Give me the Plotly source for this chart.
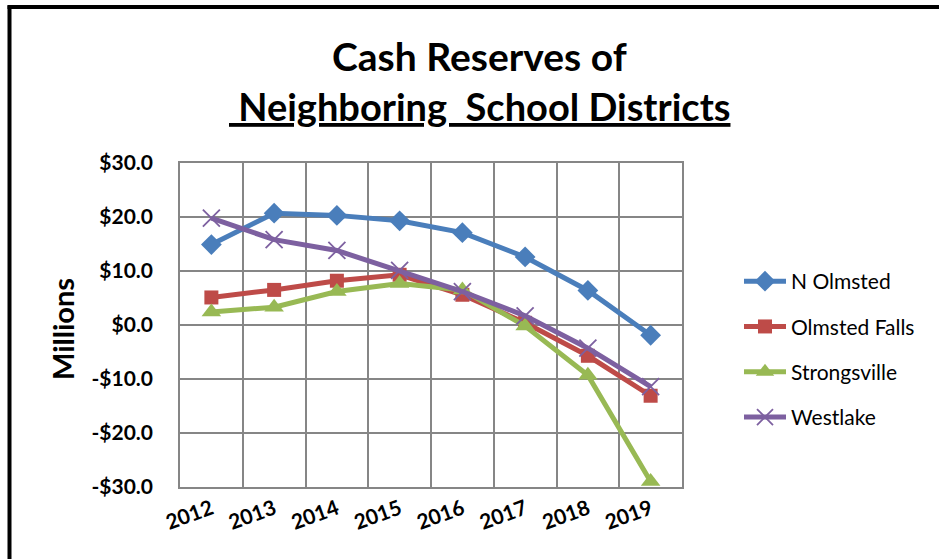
import plotly.graph_objects as go

years = ["2012", "2013", "2014", "2015", "2016", "2017", "2018", "2019"]
n_olmsted = [14.9, 20.7, 20.3, 19.3, 17.1, 12.6, 6.4, -1.9]
olmsted_falls = [5.1, 6.5, 8.2, 9.3, 5.6, 0.4, -5.7, -13.1]
strongsville = [2.4, 3.3, 6.2, 7.7, 6.5, -0.2, -9.3, -29.0]
westlake = [19.8, 15.8, 13.8, 10.1, 6.2, 1.7, -4.3, -11.4]

y_tickvals = [30, 20, 10, 0, -10, -20, -30]
y_ticktext = ["$30.0", "$20.0", "$10.0", "$0.0", "-$10.0", "-$20.0", "-$30.0"]

FONT = "Lato"

# plot area in pixels
L, R, T, B = 180, 682, 163, 487
W, H = 939, 559
pw, ph = R - L, B - T

def px(x):
    return (x - L) / pw

def py(y):
    return (B - y) / ph

series = [
    ("N Olmsted", n_olmsted, "#4A7EBB", dict(symbol="diamond", size=16)),
    ("Olmsted Falls", olmsted_falls, "#BE4B48", dict(symbol="square", size=14)),
    ("Strongsville", strongsville, "#98B954", dict(symbol="triangle-up", size=17)),
    ("Westlake", westlake, "#7D60A0", dict(symbol="x-thin", size=17)),
]

fig = go.Figure()
for name, vals, color, mk in series:
    marker = dict(color=color, **mk)
    if mk["symbol"] == "x-thin":
        marker["line"] = dict(color=color, width=1.8)
    else:
        marker["line"] = dict(width=0)
    fig.add_trace(go.Scatter(
        x=years, y=vals, name=name, mode="lines+markers",
        line=dict(color=color, width=5),
        marker=marker, legendgroup=name,
    ))

grid = "#868686"
fig.update_layout(
    width=W, height=H,
    margin=dict(l=L, r=W - R, t=T, b=H - B, pad=0),
    paper_bgcolor="white", plot_bgcolor="white",
    font=dict(family=FONT, color="black"),
    showlegend=True,
    legend=dict(x=px(739), y=py(261), xanchor="left", yanchor="top",
                font=dict(family=FONT, size=21, color="black"),
                itemwidth=42, tracegroupgap=15, bgcolor="rgba(0,0,0,0)"),
    xaxis=dict(type="category", range=[-0.5, 7.5], tickson="boundaries",
               showgrid=True, gridcolor=grid, gridwidth=1.5,
               showline=True, linecolor=grid, linewidth=1.5, mirror=True,
               ticks="", tickangle=-20,
               tickfont=dict(family=FONT, size=21, color="black", weight="bold"),
               fixedrange=True),
    yaxis=dict(range=[-30, 30], tickvals=y_tickvals, ticktext=y_ticktext,
               showgrid=True, gridcolor=grid, gridwidth=1.5, zeroline=False,
               showline=True, linecolor=grid, linewidth=1.5, mirror=True,
               ticks="", ticklabelstandoff=21,
               tickfont=dict(family=FONT, size=21, color="black", weight="bold")),
    annotations=[
        dict(text="Cash Reserves of", x=px(479), y=py(56), xref="paper", yref="paper",
             showarrow=False, xanchor="center", yanchor="middle",
             font=dict(family=FONT, size=39, color="black", weight="bold")),
        dict(text=" Neighboring  School Districts", x=px(479), y=py(106), xref="paper", yref="paper",
             showarrow=False, xanchor="center", yanchor="middle",
             font=dict(family=FONT, size=38, color="black", weight="bold", lineposition="under")),
        dict(text="Millions", x=px(62), y=py(329), xref="paper", yref="paper",
             showarrow=False, xanchor="center", yanchor="middle", textangle=-90,
             font=dict(family=FONT, size=29, color="black", weight="bold")),
    ],
    shapes=[
        dict(type="line", xref="paper", yref="paper", x0=px(9.5), x1=px(9.5),
             y0=py(5.5), y1=py(W), line=dict(color="black", width=4)),
        dict(type="line", xref="paper", yref="paper", x0=px(7.5), x1=px(W + 10),
             y0=py(7), y1=py(7), line=dict(color="black", width=4)),
    ],
)

fig.write_html("out.html", config={"displayModeBar": False},
               post_script="document.body.style.margin='0';document.body.style.overflow='hidden';")
